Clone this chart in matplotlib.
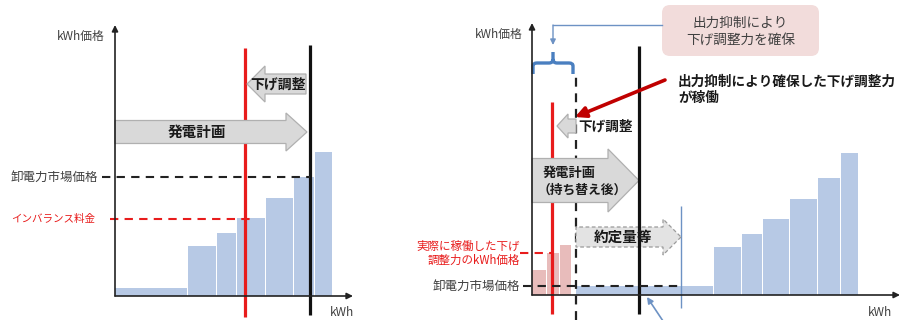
import matplotlib
matplotlib.use("Agg")
import numpy as np
import matplotlib.pyplot as plt
import matplotlib.patches as mpatches
from matplotlib.path import Path

plt.rcParams['font.family'] = ['Noto Sans CJK JP', 'DejaVu Sans']

# ---------------- data ----------------
# left panel: merit order (kWh on x, kWh price on y)
left_step_widths = [73, 29, 20, 29, 28, 21, 18]
left_bar_heights = [8, 50, 63, 78, 98, 119, 144]
left_market_price = 119
left_imbalance_price = 77
left_actual_output = 130
left_plan_output = 195

# right panel
right_pink_widths = [15, 13, 12]
right_pink_heights = [25, 42, 50]
right_blue_start = 44
right_blue_widths = [138, 28, 21, 27, 28, 23, 18]
right_blue_heights = [9, 48, 61, 76, 96, 117, 142]
right_market_price = 9
right_activated_price = 42
right_actual_output = 20
right_reserve_edge = 44
right_plan_output = 107
right_contract_edge = 149

# ---------------- styles ----------------
BAR_BLUE = '#b7c9e5'
BAR_PINK = '#e8bcbb'
RED = '#e81c1c'
DARK_RED = '#c00000'
TEXT = '#404040'
ARROW_FILL = '#d9d9d9'
ARROW_EDGE = '#b0b0b0'
BRACE_BLUE = '#4a7fc0'
THIN_BLUE = '#6d92c4'

W, H = 901, 320
fig = plt.figure(figsize=(W / 100, H / 100), dpi=100)
fig.patch.set_facecolor('white')


def make_axes(x0, y0, w, h):
    # axes whose data units equal one pixel, origin at the axis crossing
    ax = fig.add_axes([x0 / W, (H - y0) / H, w / W, h / H])
    ax.set_xlim(0, w)
    ax.set_ylim(0, h)
    ax.axis('off')
    return ax


def axis_arrows(ax, w, h):
    kw = dict(arrowstyle='-|>', color='#222222', lw=1.2, mutation_scale=9,
              shrinkA=0, shrinkB=0)
    ax.annotate('', xy=(0, h), xytext=(0, 0), arrowprops=kw,
                annotation_clip=False, zorder=8)
    ax.annotate('', xy=(w, 0), xytext=(0, 0), arrowprops=kw,
                annotation_clip=False, zorder=8)


def block_arrow(ax, x, y, dx, width, head_width, head_length, z=4,
                ls='solid', fc=ARROW_FILL, ec=ARROW_EDGE):
    arr = mpatches.FancyArrow(x, y, dx, 0, width=width, head_width=head_width,
                              head_length=head_length, length_includes_head=True,
                              fc=fc, ec=ec, lw=0.9, ls=ls, zorder=z,
                              clip_on=False)
    ax.add_patch(arr)


def vline(ax, x, y0, y1, color, lw, ls='solid', z=5):
    ax.plot([x, x], [y0, y1], color=color, lw=lw, ls=ls, zorder=z,
            clip_on=False, solid_capstyle='butt')


def hline(ax, y, x0, x1, color, lw=1.5, z=6):
    ax.plot([x0, x1], [y, y], color=color, lw=lw, ls=(0, (4, 3)), zorder=z,
            clip_on=False)


# ================= left panel =================
axL = make_axes(115, 296, 238, 271)
lefts = np.concatenate([[0], np.cumsum(left_step_widths)[:-1]])
axL.bar(lefts, left_bar_heights, width=np.array(left_step_widths) - 1,
        align='edge', color=BAR_BLUE, edgecolor='none', zorder=2, clip_on=False)

hline(axL, left_market_price, -13, left_plan_output, '#222222')
hline(axL, left_imbalance_price, -5, left_actual_output + 5, RED)

vline(axL, left_actual_output, -21, 248, RED, 2.3, z=3)
vline(axL, left_plan_output, -19, 251, '#111111', 2.3, z=5)

block_arrow(axL, 0, 164, 192, 23, 38, 21)
axL.text(82, 164, '発電計画', ha='center', va='center', fontsize=10.5,
         fontweight='bold', color='#1a1a1a', zorder=9)
block_arrow(axL, 191, 212, -59, 20, 36, 18, z=4)
axL.text(163, 211, '下げ調整', ha='center', va='center', fontsize=10,
         fontweight='bold', color='#1a1a1a', zorder=9)

axL.text(-10, 260, 'kWh価格', ha='right', va='center', fontsize=8.5, color=TEXT)
axL.text(227, -17, 'kWh', ha='center', va='center', fontsize=8.5, color=TEXT)
axL.text(-17, left_market_price, '卸電力市場価格', ha='right', va='center',
         fontsize=9, color=TEXT)
axL.text(-20, left_imbalance_price, 'インバランス料金', ha='right', va='center',
         fontsize=7.6, color=RED)
axis_arrows(axL, 238, 271)

# ================= right panel =================
axR = make_axes(532, 295, 368, 272)
p_lefts = np.concatenate([[0], np.cumsum(right_pink_widths)[:-1]])
axR.bar(p_lefts, right_pink_heights, width=np.array(right_pink_widths) - 1,
        align='edge', color=BAR_PINK, edgecolor='none', zorder=2, clip_on=False)
b_lefts = right_blue_start + np.concatenate([[0], np.cumsum(right_blue_widths)[:-1]])
axR.bar(b_lefts, right_blue_heights, width=np.array(right_blue_widths) - 1,
        align='edge', color=BAR_BLUE, edgecolor='none', zorder=2, clip_on=False)

hline(axR, right_market_price, -9, right_contract_edge, '#222222')
hline(axR, right_activated_price, -12, right_actual_output, RED)

vline(axR, right_actual_output, -19, 193, RED, 2.3, z=3)
vline(axR, right_reserve_edge, -25, 223, '#222222', 1.6, ls=(0, (4, 3)), z=3)
vline(axR, right_contract_edge, -13, 89, THIN_BLUE, 1.0, z=3)

# generation plan after re-dispatch
block_arrow(axR, 0, 114.5, 107, 44, 63, 31, z=4)
axR.text(11, 122, '発電計画', ha='left', va='center', fontsize=9.5,
         fontweight='bold', color='#1a1a1a', zorder=9)
axR.text(6, 105, '（持ち替え後）', ha='left', va='center', fontsize=9.2,
         fontweight='bold', color='#1a1a1a', zorder=9)

# contracted volume
block_arrow(axR, right_reserve_edge, 58, 105, 20, 36, 18, z=3,
            ls=(0, (3, 2)), fc='#e3e3e3', ec='#9a9a9a')
vline(axR, right_plan_output, -19, 249, '#111111', 2.3, z=5)
axR.text(91, 58, '約定量等', ha='center', va='center', fontsize=10.5,
         fontweight='bold', color='#1a1a1a', zorder=9)

# activated downward adjustment
block_arrow(axR, right_reserve_edge, 169, -19, 14, 24, 11, z=4)
axR.text(46, 168, '下げ調整', ha='left', va='center', fontsize=9.8,
         fontweight='bold', color='#1a1a1a', zorder=9)

# brace marking the reserved downward capacity
brace = Path([(1, 221), (1, 229), (1, 232), (5, 232), (17, 232), (21, 232),
              (21, 236), (21, 243),
              (21, 236), (21, 232), (25, 232), (37, 232), (41, 232), (41, 229),
              (41, 221)],
             [Path.MOVETO, Path.LINETO, Path.CURVE3, Path.CURVE3, Path.LINETO,
              Path.CURVE3, Path.CURVE3, Path.LINETO,
              Path.MOVETO, Path.CURVE3, Path.CURVE3, Path.LINETO, Path.CURVE3,
              Path.CURVE3, Path.LINETO])
axR.add_patch(mpatches.PathPatch(brace, fc='none', ec=BRACE_BLUE, lw=2.4,
                                 capstyle='butt', clip_on=False, zorder=6))

# callout
box = mpatches.FancyBboxPatch((130, 239), 157, 51,
                              boxstyle='round,pad=0,rounding_size=8',
                              fc='#f2dcdb', ec='none', zorder=3, clip_on=False)
axR.add_patch(box)
axR.text(208.5, 272, '出力抑制により', ha='center', va='center', fontsize=9.8,
         color=TEXT, zorder=9)
axR.text(208.5, 254, '下げ調整力を確保', ha='center', va='center', fontsize=9.8,
         color=TEXT, zorder=9)
axR.plot([130, 21], [270, 270], color=THIN_BLUE, lw=1.0, clip_on=False, zorder=5)
axR.annotate('', xy=(21, 250), xytext=(21, 270),
             arrowprops=dict(arrowstyle='-|>', color=THIN_BLUE, lw=1.0,
                             mutation_scale=8, shrinkA=0, shrinkB=0),
             annotation_clip=False, zorder=5)

axR.text(146, 213, '出力抑制により確保した下げ調整力', ha='left', va='center',
         fontsize=9.8, fontweight='bold', color='#1a1a1a', zorder=9)
axR.text(146, 197, 'が稼働', ha='left', va='center', fontsize=9.8,
         fontweight='bold', color='#1a1a1a', zorder=9)
axR.annotate('', xy=(43, 178), xytext=(133, 215),
             arrowprops=dict(arrowstyle='-|>', color=DARK_RED, lw=2.6,
                             mutation_scale=16, shrinkA=0, shrinkB=0),
             annotation_clip=False, zorder=7)

# pointer to the contracted section
axR.annotate('', xy=(115, -2), xytext=(131, -26),
             arrowprops=dict(arrowstyle='-|>', color=THIN_BLUE, lw=1.2,
                             mutation_scale=9, shrinkA=0, shrinkB=0),
             annotation_clip=False, zorder=7)

axR.text(-9, 261, 'kWh価格', ha='right', va='center', fontsize=8.5, color=TEXT)
axR.text(348, -18, 'kWh', ha='center', va='center', fontsize=8.5, color=TEXT)
axR.text(-12, right_market_price, '卸電力市場価格', ha='right', va='center',
         fontsize=9, color=TEXT)
axR.text(-12, right_activated_price + 7, '実際に稼働した下げ', ha='right',
         va='center', fontsize=8.3, color=RED)
axR.text(-12, right_activated_price - 7, '調整力のkWh価格', ha='right',
         va='center', fontsize=8.3, color=RED)
axis_arrows(axR, 368, 272)

fig.savefig('out.png', dpi=100, facecolor='white')
